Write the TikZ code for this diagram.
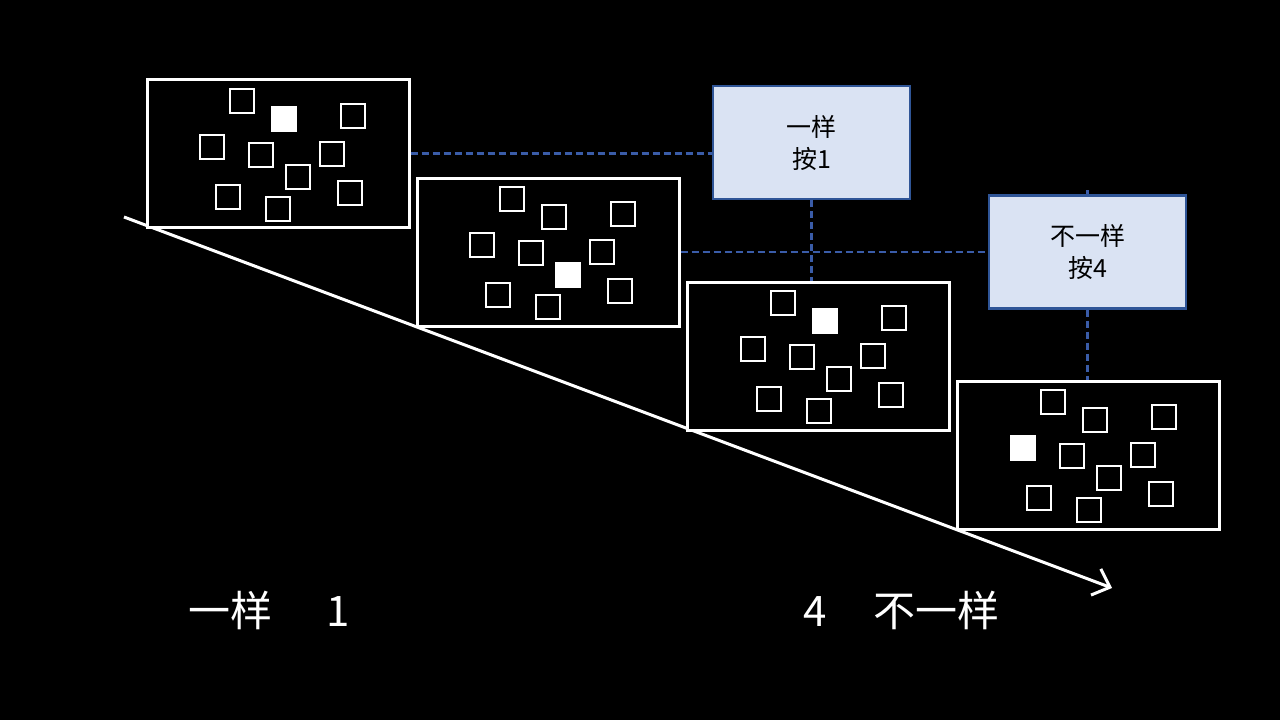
\documentclass[tikz,border=0pt]{standalone}
\usepackage{fontspec}
\setmainfont{Noto Sans CJK SC}
\usepackage{tikz}
\usepackage{xcolor}
\usetikzlibrary{arrows.meta}
\definecolor{keyfill}{RGB}{218,227,243}
\definecolor{keyline}{RGB}{47,85,151}
\definecolor{linkblue}{RGB}{58,92,168}

\begin{document}
\begin{tikzpicture}[x=1pt,y=-1pt,
  frame/.style={draw=white,line width=3pt,fill=black,minimum width=262pt,minimum height=148pt,inner sep=0pt},
  keybox/.style={draw=keyline,line width=2.2pt,fill=keyfill,minimum width=197pt,minimum height=113pt,align=center,font=\fontsize{25}{32}\selectfont},
  sq/.style={draw=white,line width=2.2pt},
  hit/.style={draw=white,fill=white,line width=2.2pt},
  link/.style={draw=linkblue,line width=2.5pt,dash pattern=on 7pt off 4pt}]
\fill[black] (0,0) rectangle (1280,720);
\useasboundingbox (0,0) rectangle (1280,720);
% axis
\coordinate (axs) at (124,217);
\coordinate (axe) at (1112,588);
\draw[white,line width=3pt,-{Straight Barb[length=15pt,width=28pt,line width=3pt]}] (axs) -- (axe);
% frames
\node[frame] (f1) at (278,153.5) {};
\node[frame] (f2) at (548,252) {};
\node[frame] (f3) at (818,356.5) {};
\node[frame] (f4) at (1088.5,455.5) {};
% key boxes
\node[keybox] (b1) at (811.5,142.5) {一样\\按1};
\node[keybox] (b2) at (1087.5,252) {不一样\\按4};
% dashed links
\draw[link] (f1.east) -- (f1.east -| b1.west);
\draw[link] (f2.east) -- (f2.east -| b2.west);
\draw[link] (b1.south) -- (b1.south |- f3.north);
\draw[link] (b2.south) -- (b2.south |- f4.north);
\draw[link] (b2.north) -- ++(0,-4);
% frame 1
\begin{scope}[shift={(147,80)}]
\draw[sq] (83,9) rectangle ++(24,24);
\draw[hit] (125,27) rectangle ++(24,24);
\draw[sq] (194,24) rectangle ++(24,24);
\draw[sq] (53,55) rectangle ++(24,24);
\draw[sq] (102,63) rectangle ++(24,24);
\draw[sq] (173,62) rectangle ++(24,24);
\draw[sq] (139,85) rectangle ++(24,24);
\draw[sq] (69,105) rectangle ++(24,24);
\draw[sq] (119,117) rectangle ++(24,24);
\draw[sq] (191,101) rectangle ++(24,24);
\end{scope}
% frame 2
\begin{scope}[shift={(417,178)}]
\draw[sq] (83,9) rectangle ++(24,24);
\draw[sq] (125,27) rectangle ++(24,24);
\draw[sq] (194,24) rectangle ++(24,24);
\draw[sq] (53,55) rectangle ++(24,24);
\draw[sq] (102,63) rectangle ++(24,24);
\draw[sq] (173,62) rectangle ++(24,24);
\draw[hit] (139,85) rectangle ++(24,24);
\draw[sq] (69,105) rectangle ++(24,24);
\draw[sq] (119,117) rectangle ++(24,24);
\draw[sq] (191,101) rectangle ++(24,24);
\end{scope}
% frame 3
\begin{scope}[shift={(688,282)}]
\draw[sq] (83,9) rectangle ++(24,24);
\draw[hit] (125,27) rectangle ++(24,24);
\draw[sq] (194,24) rectangle ++(24,24);
\draw[sq] (53,55) rectangle ++(24,24);
\draw[sq] (102,63) rectangle ++(24,24);
\draw[sq] (173,62) rectangle ++(24,24);
\draw[sq] (139,85) rectangle ++(24,24);
\draw[sq] (69,105) rectangle ++(24,24);
\draw[sq] (119,117) rectangle ++(24,24);
\draw[sq] (191,101) rectangle ++(24,24);
\end{scope}
% frame 4
\begin{scope}[shift={(958,381)}]
\draw[sq] (83,9) rectangle ++(24,24);
\draw[sq] (125,27) rectangle ++(24,24);
\draw[sq] (194,24) rectangle ++(24,24);
\draw[hit] (53,55) rectangle ++(24,24);
\draw[sq] (102,63) rectangle ++(24,24);
\draw[sq] (173,62) rectangle ++(24,24);
\draw[sq] (139,85) rectangle ++(24,24);
\draw[sq] (69,105) rectangle ++(24,24);
\draw[sq] (119,117) rectangle ++(24,24);
\draw[sq] (191,101) rectangle ++(24,24);
\end{scope}
% end labels
\node[anchor=west,white,inner sep=0pt,font=\fontsize{42}{50}\selectfont] (same) at (188,610) {一样\hspace{54pt}1};
\node[anchor=west,white,inner sep=0pt,font=\fontsize{42}{50}\selectfont] (diff) at (803,610) {4\hspace{47pt}不一样};
\end{tikzpicture}
\end{document}
